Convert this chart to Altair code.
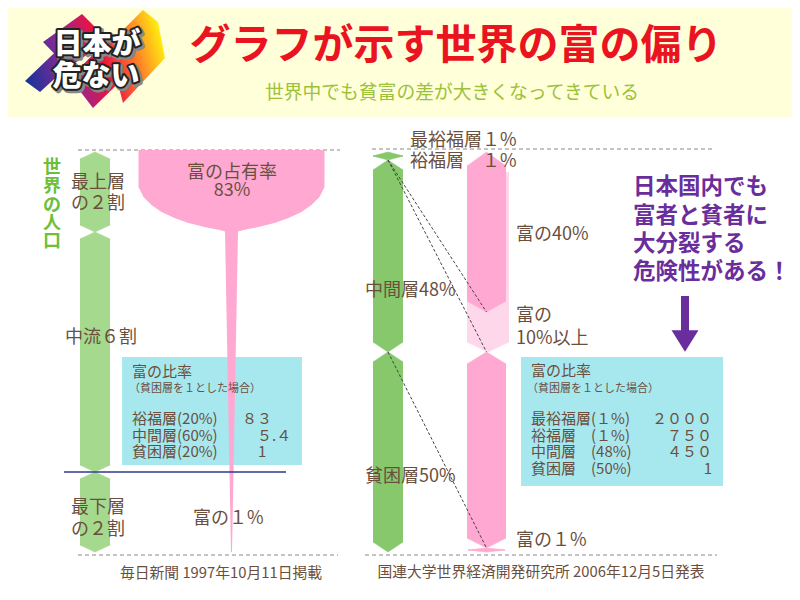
import altair as alt
import pandas as pd

FONT = "Noto Sans CJK JP"

# ---------------- data ----------------
# Left panel: 毎日新聞 1997
left_groups = ["最上層", "中流", "最下層"]
left_pop_share = [20, 60, 20]                 # % of world population
left_top_wealth = 83                          # 富の占有率 (top 20%)
left_bottom_wealth = 1                        # 富の1% (bottom 20%)
left_ratio_labels = ["裕福層(20%)", "中間層(60%)", "貧困層(20%)"]
left_ratio_values = ["８３", "５.４", "1"]

# Right panel: 国連大学 2006
right_groups = ["最裕福層", "裕福層", "中間層", "貧困層"]
right_pop_share = [1, 1, 48, 50]
right_wealth_share = [40, 10, 49, 1]
right_ratio_pct = ["(１%)", "(１%)", "(48%)", "(50%)"]
right_ratio_values = ["２０００", "７５０", "４５０", "1"]

# outline of the left wealth "glass" (population % from top -> half width)
funnel_pct = [-0.5, 8.75, 11.25, 13.25, 15.0, 16.5, 17.75, 18.75, 19.5, 19.875, 100]
funnel_half = [93, 93, 88, 80, 70, 57, 43, 27, 12, 6.5, 0.5]

message = ["日本国内でも", "富者と貧者に", "大分裂する", "危険性がある！"]

# ---------------- helpers ----------------
def cum(vals):
    out = [0]
    for v in vals:
        out.append(out[-1] + v)
    return out

PXP = 4.0  # px per % of the population scale (used for pointed tips)
XS = alt.Scale(domain=[8, 792], nice=False, zero=False)
YPX = alt.Scale(domain=[8, 592], reverse=True, nice=False, zero=False)
YP = alt.Scale(domain=[-36, 110], reverse=True, nice=False, zero=False)


def hex_parts(top, bot, cx, half, d_top, d_bot):
    """body rect (in %) and tip symbols for a pointed segment"""
    w = 2 * half
    body = dict(p0=top + d_top / PXP, p1=bot - d_bot / PXP, x0=cx - half, x1=cx + half)
    tips = []
    if d_top > 0:
        h = d_top / w
        tips.append(dict(p=top + d_top / (2 * PXP), x=cx, sz=w * w,
                         shp=f"M-1,{h:.4f} L0,{-h:.4f} L1,{h:.4f} Z"))
    if d_bot > 0:
        h = d_bot / w
        tips.append(dict(p=bot - d_bot / (2 * PXP), x=cx, sz=w * w,
                         shp=f"M-1,{-h:.4f} L0,{h:.4f} L1,{-h:.4f} Z"))
    return body, tips


def column_layers(segs, color):
    bodies, tips = [], []
    for s in segs:
        b, t = hex_parts(*s)
        if b["p1"] > b["p0"]:
            bodies.append(b)
        tips += t
    out = []
    if bodies:
        out.append(alt.Chart(pd.DataFrame(bodies)).mark_rect(color=color).encode(
            x=alt.X("x0:Q", scale=XS, axis=None), x2="x1:Q",
            y=alt.Y("p0:Q", scale=YP, axis=None), y2="p1:Q"))
    if tips:
        out.append(alt.Chart(pd.DataFrame(tips)).mark_point(
            filled=True, color=color, opacity=1, stroke=color, strokeWidth=0.6).encode(
            x=alt.X("x:Q", scale=XS, axis=None),
            y=alt.Y("p:Q", scale=YP, axis=None),
            shape=alt.Shape("shp:N", scale=None, legend=None),
            size=alt.Size("sz:Q", scale=None, legend=None)))
    return out


def text_layer(rows, size, color, align="left", weight="normal", **kw):
    df = pd.DataFrame(rows, columns=["t", "x", "y"])
    return alt.Chart(df).mark_text(font=FONT, fontSize=size, color=color, align=align,
                                   baseline="middle", fontWeight=weight, **kw).encode(
        x=alt.X("x:Q", scale=XS, axis=None),
        y=alt.Y("y:Q", scale=YPX, axis=None),
        text="t:N",
    )


def rect_layer(rows, color):
    df = pd.DataFrame(rows, columns=["x0", "x1", "y0", "y1"])
    return alt.Chart(df).mark_rect(color=color).encode(
        x=alt.X("x0:Q", scale=XS, axis=None), x2="x1:Q",
        y=alt.Y("y0:Q", scale=YPX, axis=None), y2="y1:Q",
    )


def hrule_px(rows, color, dash=None, width=1):
    df = pd.DataFrame(rows, columns=["x0", "x1", "y"])
    kw = dict(color=color, strokeWidth=width)
    if dash:
        kw["strokeDash"] = dash
    return alt.Chart(df).mark_rule(**kw).encode(
        x=alt.X("x0:Q", scale=XS, axis=None), x2="x1:Q",
        y=alt.Y("y:Q", scale=YPX, axis=None),
    )

BROWN = "#6B4F3E"
PURPLE = "#6A2D9C"
PINK = "#FFA9D2"

layers = []

# header
layers.append(rect_layer([(8, 792, 8, 117)], "#FFFFDA"))

# logo
logo_polys = [
    [(25, 81), (72, 36), (86, 50), (40, 92)],
    [(43, 42), (82, 14), (108, 40), (68, 68)],
    [(70, 78), (112, 35), (140, 62), (93, 108)],
    [(108, 45), (143, 10), (158, 22), (165, 58), (123, 103)],
]
LCX, LCY, LH = 95, 59, 75
logo_path = " ".join(
    "M" + " L".join(f"{(x - LCX) / LH:.3f},{(y - LCY) / LH:.3f}" for x, y in poly) + " Z"
    for poly in logo_polys)
grad = {"gradient": "linear", "x1": 0, "y1": 0.6, "x2": 1, "y2": 0.4,
        "stops": [{"offset": 0, "color": "#1B3399"}, {"offset": 0.28, "color": "#8A2A98"},
                  {"offset": 0.55, "color": "#EC1240"}, {"offset": 0.78, "color": "#FF7A2A"},
                  {"offset": 1, "color": "#FFEE10"}]}
layers.append(alt.Chart(pd.DataFrame({"x": [LCX], "y": [LCY]})).mark_point(
    shape=logo_path, size=(2 * LH) ** 2, filled=True, fill=grad, opacity=1, strokeWidth=0).encode(
    x=alt.X("x:Q", scale=XS, axis=None), y=alt.Y("y:Q", scale=YPX, axis=None)))
logo_txt = [("日本が", 97, 45), ("危ない", 96, 77)]
layers.append(text_layer(logo_txt, 29, "#888888", align="center", weight=900, dx=2, dy=2,
                         stroke="#888888", strokeWidth=5, strokeJoin="round"))
layers.append(text_layer(logo_txt, 29, "#222222", align="center", weight=900,
                         stroke="#222222", strokeWidth=4, strokeJoin="round"))
layers.append(text_layer(logo_txt, 29, "white", align="center", weight=900))

# title and subtitle
layers.append(text_layer([("グラフが示す世界の富の偏り", 456, 47)], 41, "#EA1320", align="center", weight="bold"))
layers.append(text_layer([("世界中でも貧富の差が大きくなってきている", 452, 93)], 18.8, "#9CC13A", align="center"))

# dashed guide lines
layers.append(hrule_px([(78, 340, 150), (78, 338, 555), (372, 715, 149), (365, 717, 555)],
                       "#888888", dash=[4, 3]))

# cyan boxes
layers.append(rect_layer([(122, 302, 357, 465), (521, 723, 357, 486)], "#A7E8EF"))

# left population bar
lc = cum(left_pop_share)
layers += column_layers([(lc[i], lc[i + 1], 95, 15, 7, 7) for i in range(len(left_pop_share))], "#A5D98E")

# left wealth funnel (area, population % vs half width)
fdf = pd.DataFrame({"p": funnel_pct,
                    "xl": [231.5 - h for h in funnel_half],
                    "xr": [231.5 + h for h in funnel_half]})
layers.append(alt.Chart(fdf).mark_area(orient="horizontal", color=PINK, opacity=1).encode(
    y=alt.Y("p:Q", scale=YP, axis=None),
    x=alt.X("xl:Q", scale=XS, axis=None),
    x2="xr:Q"))

# navy line at the bottom-20% boundary
layers.append(alt.Chart(pd.DataFrame({"x0": [64], "x1": [286], "p": [lc[2]]})).mark_rule(
    color="#2E3A8C", strokeWidth=1.5).encode(
    x=alt.X("x0:Q", scale=XS, axis=None), x2="x1:Q", y=alt.Y("p:Q", scale=YP, axis=None)))

# right population bar
rc = cum(right_pop_share)
layers += column_layers([(rc[0], rc[2], 388, 15, 4, 4),
                         (rc[2], rc[3], 388, 15, 10, 10),
                         (rc[3], rc[4], 388, 15, 10, 10)], "#86C86B")

# right wealth bar
wc = cum(right_wealth_share)
layers += column_layers([(wc[0] + 5, wc[2], 488, 21, 0, 10)], "#FFD7EB")
layers += column_layers([(wc[0], wc[1], 486.5, 19.5, 14, 11),
                         (wc[2], wc[3], 486.5, 19.5, 12, 10),
                         (wc[3], wc[4], 486.5, 18.5, 2, 2)], PINK)

# dashed connectors population -> wealth
conn = pd.DataFrame({"x0": [388, 388, 388], "x1": [486.5, 486.5, 486.5],
                     "p0": [rc[2], rc[2], rc[3]], "p1": [wc[1], wc[2], wc[3]]})
layers.append(alt.Chart(conn).mark_rule(color="#444444", strokeDash=[3, 2], strokeWidth=1).encode(
    x=alt.X("x0:Q", scale=XS, axis=None), x2="x1:Q",
    y=alt.Y("p0:Q", scale=YP, axis=None), y2="p1:Q"))

# labels around the bars
lab = [
    (left_groups[0], 71, 183), ("の２割", 71, 204),
    (f"{left_groups[1]}６割", 65, 338),
    (left_groups[2], 71, 508), ("の２割", 71, 530),
    ("富の１%", 193, 519),
    (f"{right_groups[0]}１%", 410, 141), (f"{right_groups[1]}　１%", 410, 162),
    (f"富の{right_wealth_share[0]}%", 516, 235),
    (f"{right_groups[2]}{right_pop_share[2]}%", 365, 291),
    ("富の", 516, 316), (f"{right_wealth_share[1]}%以上", 516, 339),
    (f"{right_groups[3]}{right_pop_share[3]}%", 365, 477),
    ("富の１%", 516, 541),
]
layers.append(text_layer(lab, 18, BROWN))
layers.append(text_layer([("富の占有率", 232, 173), (f"{left_top_wealth}%", 232, 191)], 18, BROWN, align="center"))

# vertical green label
layers.append(text_layer([(c, 52, y) for c, y in zip("世界の人口", [168, 187, 206, 224, 242])],
                         18, "#6CBF3A", align="center", weight="bold"))

# boxes content
layers.append(text_layer([("富の比率", 132, 372), ("富の比率", 531, 371)], 15, BROWN))
layers.append(text_layer([("（貧困層を１とした場合）", 129, 389), ("（貧困層を１とした場合）", 527, 389)], 11, BROWN))
ly = [419, 436, 452]
layers.append(text_layer([(t, 132, y) for t, y in zip(left_ratio_labels, ly)], 15, BROWN))
layers.append(text_layer([(t, x, y) for t, x, y in zip(left_ratio_values, [242, 257, 258], ly)], 15, BROWN))
ry = [419, 436, 452, 469]
layers.append(text_layer([(t, 531, y) for t, y in zip(right_groups, ry)], 15, BROWN))
layers.append(text_layer([(t, 591, y) for t, y in zip(right_ratio_pct, ry)], 15, BROWN))
layers.append(text_layer([(t, 712, y) for t, y in zip(right_ratio_values, ry)], 15, BROWN, align="right"))

# sources
layers.append(text_layer([("毎日新聞  1997年10月11日掲載", 221, 574),
                          ("国連大学世界経済開発研究所  2006年12月5日発表", 541, 573)],
                         14.8, BROWN, align="center"))

# purple message and arrow
layers.append(text_layer([(t, 633, y) for t, y in zip(message, [187, 216, 244, 272])],
                         22.5, PURPLE, weight="bold"))
layers.append(rect_layer([(681, 689, 296, 331)], PURPLE))
layers.append(alt.Chart(pd.DataFrame({"x": [685], "y": [341]})).mark_point(
    shape="M-1,-0.8 L1,-0.8 L0,0.8 Z", size=729, filled=True, color=PURPLE, opacity=1).encode(
    x=alt.X("x:Q", scale=XS, axis=None), y=alt.Y("y:Q", scale=YPX, axis=None)))

chart = alt.layer(*layers).resolve_scale(y="independent").properties(
    width=784, height=584, padding=0, background="white",
    autosize=alt.AutoSizeParams(type="none"),
).configure_view(stroke=None)

chart.save("out.html", embed_options={"renderer": "svg", "actions": False})
